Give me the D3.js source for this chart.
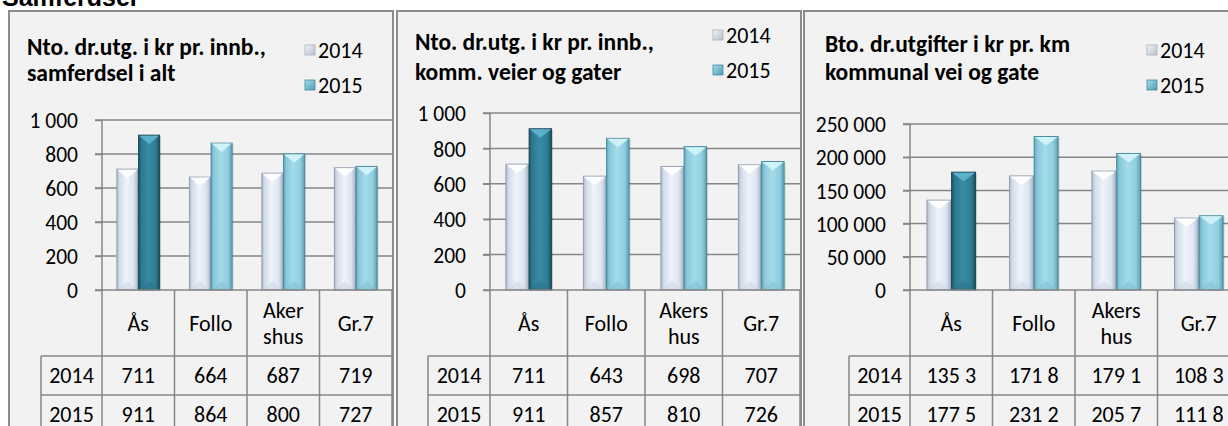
<!DOCTYPE html>
<html><head><meta charset="utf-8">
<script src="https://cdn.jsdelivr.net/npm/d3@7"></script>
<style>html,body{margin:0;padding:0;background:#fff;overflow:hidden}svg{display:block}</style>
</head><body>
<svg id="chart" width="1228" height="426"></svg>
<script>
// ---------- DATA ----------
const pageTitle = "Samferdsel";
const categories = ["Ås", "Follo", "Akershus", "Gr.7"];
const series = ["2014", "2015"];

const p1Title = ["Nto. dr.utg. i kr pr. innb.,", "samferdsel i alt"];
const p1CatLabels = [["Ås"], ["Follo"], ["Aker", "shus"], ["Gr.7"]];
const p1Values2014 = [711, 664, 687, 719];
const p1Values2015 = [911, 864, 800, 727];
const p1Ticks = [0, 200, 400, 600, 800, 1000];

const p2Title = ["Nto. dr.utg. i kr pr. innb.,", "komm. veier og gater"];
const p2CatLabels = [["Ås"], ["Follo"], ["Akers", "hus"], ["Gr.7"]];
const p2Values2014 = [711, 643, 698, 707];
const p2Values2015 = [911, 857, 810, 726];
const p2Ticks = [0, 200, 400, 600, 800, 1000];

const p3Title = ["Bto. dr.utgifter i kr pr. km", "kommunal vei og gate"];
const p3CatLabels = [["Ås"], ["Follo"], ["Akers", "hus"], ["Gr.7"]];
const p3Values2014 = [135300, 171800, 179100, 108300];
const p3Values2015 = [177500, 231200, 205700, 111800];
const p3Table2014 = ["135 3", "171 8", "179 1", "108 3"];
const p3Table2015 = ["177 5", "231 2", "205 7", "111 8"];
const p3Ticks = [0, 50000, 100000, 150000, 200000, 250000];

const highlightCategory = "Ås";

// ---------- SETUP ----------
const svg = d3.select("#chart");
const FONT = "Carlito, Calibri, Lato, 'Open Sans', sans-serif";
const loc = d3.formatLocale({decimal: ",", thousands: " ", grouping: [3], currency: ["", ""]});
const fmt = loc.format(",d");
const TXT = 22, TICK = 21.5, TITLE = 23.5;

const defs = svg.append("defs");
function hGrad(id, stops) {
  const g = defs.append("linearGradient").attr("id", id).attr("x1", "0").attr("x2", "1").attr("y1", "0").attr("y2", "0");
  stops.forEach(([o, c]) => g.append("stop").attr("offset", o).attr("stop-color", c));
}
hGrad("g2014", [[0, "#aeb9ca"], [0.13, "#d3dcea"], [0.45, "#eef3fb"], [0.8, "#dde5f1"], [1, "#a9b4c5"]]);
hGrad("g2015", [[0, "#62a6bb"], [0.13, "#89c9db"], [0.45, "#a3dbe9"], [0.8, "#90cfe0"], [1, "#5d9db1"]]);
hGrad("g2015d", [[0, "#1b5467"], [0.13, "#2c788f"], [0.45, "#388ba3"], [0.8, "#2f7e96"], [1, "#1a5062"]]);
const legG = defs.append("linearGradient").attr("id", "leg2014").attr("x1", 0).attr("y1", 0).attr("x2", 1).attr("y2", 1);
legG.append("stop").attr("offset", 0).attr("stop-color", "#f4f6fa");
legG.append("stop").attr("offset", 1).attr("stop-color", "#b6bec9");
const legG2 = defs.append("linearGradient").attr("id", "leg2015").attr("x1", 0).attr("y1", 0).attr("x2", 1).attr("y2", 1);
legG2.append("stop").attr("offset", 0).attr("stop-color", "#a9dcea");
legG2.append("stop").attr("offset", 1).attr("stop-color", "#4f9cb4");

const barStyle = {
  "2014": {fill: "url(#g2014)", top: "#ffffff", stroke: "#8d99aa", bottom: "#c9d3e0"},
  "2015": {fill: "url(#g2015)", top: "#d2f3fa", stroke: "#43869b", bottom: "#7fbccd"},
  "2015d": {fill: "url(#g2015d)", top: "#5db3cb", stroke: "#163f4d", bottom: "#2a7086"}
};

svg.append("text").attr("x", 2).attr("y", 6).attr("font-family", "'Liberation Sans', Arial, sans-serif")
  .attr("font-weight", "bold").attr("font-size", 25).attr("fill", "#000").text(pageTitle);

function drawPanel(cfg) {
  const g = svg.append("g");
  g.append("rect").attr("x", cfg.box[0]).attr("y", cfg.box[1])
    .attr("width", cfg.box[2] - cfg.box[0]).attr("height", cfg.box[3] - cfg.box[1])
    .attr("fill", "#f2f2f2").attr("stroke", "#8c8c8c").attr("stroke-width", 2);

  cfg.title.forEach((t, i) => {
    g.append("text").attr("x", cfg.titleX).attr("y", cfg.titleY[i])
      .attr("font-family", FONT).attr("font-weight", "bold").attr("font-size", TITLE)
      .attr("fill", "#000").text(t);
  });

  series.forEach((s, i) => {
    const cy = cfg.legY[i];
    g.append("rect").attr("x", cfg.legX).attr("y", cy - 5).attr("width", 10).attr("height", 10)
      .attr("fill", i === 0 ? "url(#leg2014)" : "url(#leg2015)").attr("stroke", i === 0 ? "#a7afba" : "#3f8aa1").attr("stroke-width", 0.8);
    g.append("text").attr("x", cfg.legX + 13).attr("y", cy + 8)
      .attr("font-family", FONT).attr("font-size", TXT).attr("fill", "#000").text(s);
  });

  const y = d3.scaleLinear().domain([0, cfg.ticks[cfg.ticks.length - 1]]).range([cfg.y0, cfg.yTop]);
  const x0 = d3.scaleBand().domain(categories).range([cfg.left, cfg.right]).padding(0);
  const bw = x0.bandwidth();
  const x1 = d3.scaleBand().domain(series).range([bw * 0.205, bw * 0.795]).paddingInner(0.03);

  g.append("g").selectAll("line").data(cfg.ticks.filter(t => t > 0)).join("line")
    .attr("x1", cfg.left - 7).attr("x2", cfg.right).attr("y1", d => y(d)).attr("y2", d => y(d))
    .attr("stroke", "#868686").attr("stroke-width", 1.5);

  const ax = g.append("g").attr("transform", `translate(${cfg.left},0)`)
    .call(d3.axisLeft(y).tickValues(cfg.ticks).tickFormat(fmt).tickSize(7).tickPadding(cfg.tickPad));
  ax.select(".domain").remove();
  ax.selectAll(".tick line").attr("stroke", "#868686").attr("stroke-width", 1.5);
  ax.selectAll(".tick text").attr("font-family", FONT).attr("font-size", TICK).attr("fill", "#000").attr("dy", "0.36em");

  const valuesBySeries = {"2014": cfg.v2014, "2015": cfg.v2015};
  categories.forEach((c, ci) => {
    series.forEach(s => {
      const v = valuesBySeries[s][ci];
      const key = (s === "2015" && c === highlightCategory) ? "2015d" : s;
      const st = barStyle[key];
      const bx = x0(c) + x1(s), w = x1.bandwidth(), by = y(v), h = cfg.y0 - by;
      const bev = Math.min(9, w * 0.42);
      g.append("rect").attr("x", bx + 1.5).attr("y", by + 1.5).attr("width", w).attr("height", h - 1.5)
        .attr("fill", "#000").attr("opacity", 0.12);
      g.append("rect").attr("x", bx).attr("y", by).attr("width", w).attr("height", h)
        .attr("fill", st.fill).attr("stroke", st.stroke).attr("stroke-width", 0.9);
      g.append("polygon").attr("points", [[bx + 0.5, by + 0.5], [bx + w - 0.5, by + 0.5], [bx + w / 2, by + bev]].join(" "))
        .attr("fill", st.top).attr("opacity", 0.95);
      g.append("polygon").attr("points", [[bx + 1, cfg.y0], [bx + w / 2, cfg.y0 - bev], [bx + w - 1, cfg.y0]].join(" "))
        .attr("fill", st.bottom).attr("opacity", 0.5);
    });
  });

  g.append("line").attr("x1", cfg.left - 7).attr("x2", cfg.right).attr("y1", cfg.y0).attr("y2", cfg.y0)
    .attr("stroke", "#868686").attr("stroke-width", 1.5);
  g.append("line").attr("x1", cfg.left).attr("x2", cfg.left).attr("y1", cfg.yTop).attr("y2", cfg.box[3])
    .attr("stroke", "#868686").attr("stroke-width", 1.5);

  const tl = "#868686";
  categories.forEach((c, ci) => {
    const xr = x0(c) + bw;
    g.append("line").attr("x1", xr).attr("x2", xr).attr("y1", cfg.y0).attr("y2", cfg.box[3])
      .attr("stroke", tl).attr("stroke-width", 1.5);
    const lines = cfg.catLabels[ci];
    const cy = (cfg.y0 + cfg.rowY[0]) / 2;
    lines.forEach((ln, li) => {
      const off = (li - (lines.length - 1) / 2) * 26;
      g.append("text").attr("x", x0(c) + bw / 2).attr("y", cy + off + 7.5).attr("text-anchor", "middle")
        .attr("font-family", FONT).attr("font-size", TXT).attr("fill", "#000").text(ln);
    });
  });
  cfg.rowY.forEach(ry => {
    g.append("line").attr("x1", cfg.rowLeft).attr("x2", cfg.right).attr("y1", ry).attr("y2", ry)
      .attr("stroke", tl).attr("stroke-width", 1.5);
  });
  g.append("line").attr("x1", cfg.rowLeft).attr("x2", cfg.rowLeft).attr("y1", cfg.rowY[0]).attr("y2", cfg.box[3])
    .attr("stroke", tl).attr("stroke-width", 1.5);
  const rowTexts = [cfg.t2014, cfg.t2015];
  series.forEach((s, si) => {
    const cy = (cfg.rowY[si] + (cfg.rowY[si + 1] || cfg.rowY[si] + 39)) / 2;
    g.append("text").attr("x", (cfg.rowLeft + cfg.left) / 2).attr("y", cy + 7.5).attr("text-anchor", "middle")
      .attr("font-family", FONT).attr("font-size", TXT).attr("fill", "#000").text(s);
    categories.forEach((c, ci) => {
      g.append("text").attr("x", x0(c) + bw / 2).attr("y", cy + 7.5).attr("text-anchor", "middle")
        .attr("font-family", FONT).attr("font-size", TXT).attr("fill", "#000").text(rowTexts[si][ci]);
    });
  });
}

drawPanel({
  box: [9, 11, 393, 460], title: p1Title, titleX: 27, titleY: [55, 81],
  legX: 305, legY: [50, 85], ticks: p1Ticks, left: 102, right: 392, y0: 290, yTop: 120, tickPad: 17,
  v2014: p1Values2014, v2015: p1Values2015, catLabels: p1CatLabels,
  rowY: [356, 395], rowLeft: 41, t2014: p1Values2014.map(String), t2015: p1Values2015.map(String)
});
drawPanel({
  box: [397, 11, 801, 460], title: p2Title, titleX: 415, titleY: [50, 80],
  legX: 713, legY: [35, 70], ticks: p2Ticks, left: 490, right: 800, y0: 290, yTop: 113, tickPad: 17,
  v2014: p2Values2014, v2015: p2Values2015, catLabels: p2CatLabels,
  rowY: [356, 395], rowLeft: 428, t2014: p2Values2014.map(String), t2015: p2Values2015.map(String)
});
drawPanel({
  box: [804, 11, 1250, 460], title: p3Title, titleX: 825, titleY: [52, 80],
  legX: 1147, legY: [50, 85], ticks: p3Ticks, left: 910, right: 1240, y0: 290, yTop: 124, tickPad: 17,
  v2014: p3Values2014, v2015: p3Values2015, catLabels: p3CatLabels,
  rowY: [356, 395], rowLeft: 849, t2014: p3Table2014, t2015: p3Table2015
});
</script>
</body></html>
